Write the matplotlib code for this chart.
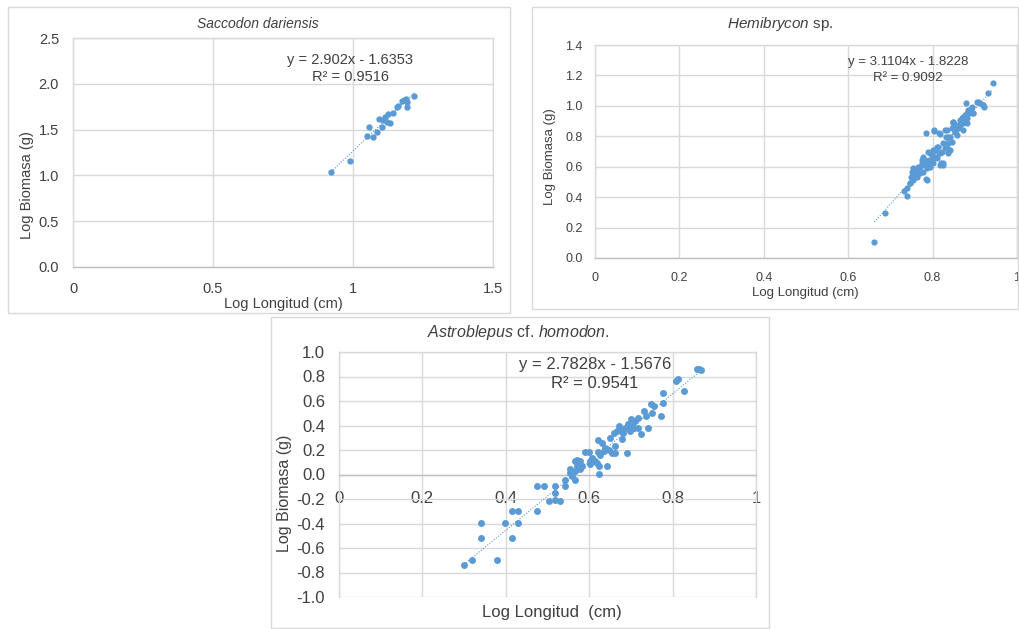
import matplotlib
matplotlib.use("Agg")
import matplotlib.pyplot as plt
from matplotlib.patches import Rectangle
import numpy as np

plt.rcParams['font.family'] = ['Liberation Sans', 'DejaVu Sans']
plt.rcParams['mathtext.fontset'] = 'custom'
plt.rcParams['mathtext.it'] = 'Liberation Sans:italic'
plt.rcParams['mathtext.rm'] = 'Liberation Sans'

# ---------------- data ----------------
saccodon_x = [0.921, 0.989, 1.049, 1.057, 1.070, 1.085, 1.093, 1.104, 1.108, 1.114,
              1.120, 1.124, 1.132, 1.144, 1.156, 1.162, 1.174, 1.182, 1.189, 1.192,
              1.194, 1.219]
saccodon_y = [1.04, 1.16, 1.433, 1.53, 1.42, 1.474, 1.616, 1.525, 1.605, 1.634,
              1.586, 1.670, 1.568, 1.678, 1.750, 1.761, 1.816, 1.823, 1.834, 1.744,
              1.805, 1.867]
saccodon_slope, saccodon_icpt, saccodon_r2 = 2.902, -1.6353, 0.9516

hemi_x = [0.662, 0.688, 0.739, 0.732, 0.740, 0.746, 0.748, 0.750, 0.753, 0.758,
          0.762, 0.766, 0.770, 0.774, 0.778, 0.782, 0.784, 0.784, 0.790, 0.792,
          0.794, 0.798, 0.802, 0.804, 0.806, 0.810, 0.813, 0.816, 0.818, 0.821,
          0.824, 0.825, 0.829, 0.832, 0.833, 0.837, 0.841, 0.845, 0.849, 0.853,
          0.857, 0.861, 0.865, 0.869, 0.873, 0.877, 0.879, 0.881, 0.885, 0.889,
          0.893, 0.896, 0.907, 0.912, 0.919, 0.922, 0.932, 0.942,
          0.804, 0.818, 0.833, 0.849, 0.865, 0.873, 0.881, 0.861, 0.853, 0.841,
          0.837, 0.829, 0.822, 0.814, 0.806, 0.798, 0.790, 0.786, 0.778, 0.770,
          0.762, 0.754, 0.746, 0.825, 0.818, 0.786, 0.810, 0.802, 0.794, 0.837,
          0.845, 0.857, 0.766, 0.758, 0.774, 0.782,
          0.920, 0.905, 0.896, 0.889, 0.877, 0.869, 0.861, 0.849, 0.881, 0.873]
hemi_y = [0.107, 0.294, 0.408, 0.443, 0.458, 0.491, 0.535, 0.567, 0.590, 0.546,
          0.579, 0.557, 0.600, 0.644, 0.666, 0.611, 0.517, 0.820, 0.699, 0.644,
          0.600, 0.677, 0.623, 0.842, 0.710, 0.655, 0.732, 0.820, 0.688, 0.623,
          0.754, 0.611, 0.842, 0.798, 0.721, 0.798, 0.710, 0.853, 0.896, 0.830,
          0.863, 0.853, 0.874, 0.918, 0.886, 0.940, 1.017, 0.918, 0.973, 0.951,
          0.995, 0.951, 1.028, 1.017, 1.006, 0.995, 1.087, 1.148,
          0.837, 0.815, 0.842, 0.890, 0.907, 0.929, 0.951, 0.853, 0.830, 0.798,
          0.754, 0.721, 0.699, 0.688, 0.666, 0.644, 0.623, 0.590, 0.567, 0.557,
          0.535, 0.513, 0.491, 0.623, 0.611, 0.513, 0.732, 0.710, 0.688, 0.688,
          0.765, 0.809, 0.600, 0.579, 0.623, 0.644,
          1.006, 1.028, 0.951, 0.973, 0.929, 0.907, 0.874, 0.896, 0.886, 0.842]
hemi_slope, hemi_icpt, hemi_r2 = 3.1104, -1.8228, 0.9092

astro_x = [0.299, 0.320, 0.341, 0.341, 0.379, 0.397, 0.414, 0.414, 0.429, 0.429,
           0.475, 0.491, 0.475, 0.503, 0.518, 0.518, 0.518, 0.531, 0.543, 0.543,
           0.555, 0.555, 0.559, 0.565, 0.567, 0.567, 0.570, 0.571, 0.575, 0.578,
           0.579, 0.583, 0.591, 0.599, 0.602, 0.603, 0.607, 0.615, 0.619, 0.622,
           0.622, 0.623, 0.623, 0.627, 0.631, 0.635, 0.639, 0.643, 0.647, 0.651,
           0.655, 0.659, 0.663, 0.663, 0.667, 0.671, 0.675, 0.679, 0.682, 0.685,
           0.690, 0.692, 0.695, 0.699, 0.701, 0.703, 0.708, 0.711, 0.716, 0.716,
           0.724, 0.732, 0.736, 0.740, 0.748, 0.750, 0.756, 0.772, 0.778, 0.778,
           0.808, 0.813, 0.828, 0.858, 0.864, 0.869]
astro_y = [-0.736, -0.695, -0.392, -0.518, -0.695, -0.392, -0.300, -0.518, -0.300, -0.392,
           -0.095, -0.095, -0.300, -0.218, -0.095, -0.150, -0.207, -0.218, -0.095, -0.041,
           0.041, 0.014, -0.014, 0.109, -0.041, 0.027, 0.068, 0.117, 0.095, 0.041,
           0.109, 0.068, 0.185, 0.185, 0.109, 0.087, 0.136, 0.109, 0.095, 0.278,
           0.185, 0.005, 0.068, 0.163, 0.259, 0.191, 0.218, 0.068, 0.204, 0.300,
           0.177, 0.341, 0.232, 0.177, 0.354, 0.395, 0.368, 0.286, 0.341, 0.381,
           0.177, 0.409, 0.368, 0.354, 0.450, 0.395, 0.381, 0.436, 0.381, 0.458,
           0.332, 0.518, 0.477, 0.381, 0.572, 0.504, 0.559, 0.477, 0.668, 0.586,
           0.763, 0.777, 0.681, 0.858, 0.858, 0.853]
astro_slope, astro_icpt, astro_r2 = 2.7828, -1.5676, 0.9541

# tick values / labels
p1_xt = [0, 0.5, 1.0, 1.5]
p1_xl = ['0', '0.5', '1', '1.5']
p1_yt = [0, 0.5, 1.0, 1.5, 2.0, 2.5]
p1_yl = ['0.0', '0.5', '1.0', '1.5', '2.0', '2.5']
p2_xt = [0, 0.2, 0.4, 0.6, 0.8, 1.0]
p2_xl = ['0', '0.2', '0.4', '0.6', '0.8', '1']
p2_yt = [0, 0.2, 0.4, 0.6, 0.8, 1.0, 1.2, 1.4]
p2_yl = ['0.0', '0.2', '0.4', '0.6', '0.8', '1.0', '1.2', '1.4']
p3_xt = [0, 0.2, 0.4, 0.6, 0.8, 1.0]
p3_xl = ['0', '0.2', '0.4', '0.6', '0.8', '1']
p3_yt = [-1.0, -0.8, -0.6, -0.4, -0.2, 0.0, 0.2, 0.4, 0.6, 0.8, 1.0]
p3_yl = ['-1.0', '-0.8', '-0.6', '-0.4', '-0.2', '0.0', '0.2', '0.4', '0.6', '0.8', '1.0']

# ---------------- styling ----------------
W, H = 1019, 629
DOT = '#5B9BD5'
GRID = '#D9D9D9'
TXT = '#404040'

fig = plt.figure(figsize=(W / 100, H / 100), dpi=100)
fig.patch.set_facecolor('white')


def fx(px):
    return px / W


def fy(py):
    return 1 - py / H


def box(x0, y0, x1, y1):
    fig.patches.append(Rectangle((fx(x0), fy(y1)), fx(x1) - fx(x0), fy(y0) - fy(y1),
                                 transform=fig.transFigure, fill=False,
                                 edgecolor=GRID, linewidth=1.0))


def make_axes(l, t, r, b):
    return fig.add_axes([fx(l), fy(b), fx(r) - fx(l), fy(t) - fy(b)])


def style(ax, xt, xl, yt, yl, fs, xpad, ypad):
    ax.set_xticks(xt)
    ax.set_xticklabels(xl)
    ax.set_yticks(yt)
    ax.set_yticklabels(yl)
    ax.set_xlim(xt[0], xt[-1])
    ax.set_ylim(yt[0], yt[-1])
    ax.grid(True, color=GRID, linewidth=1.0)
    ax.set_axisbelow(True)
    for s in ax.spines.values():
        s.set_color(GRID)
        s.set_linewidth(1.0)
    ax.spines['bottom'].set_color('#BFBFBF')
    ax.tick_params(length=0, labelsize=fs, labelcolor=TXT)
    ax.tick_params(axis='x', pad=xpad)
    ax.tick_params(axis='y', pad=ypad)


def draw(ax, xs, ys, slope, icpt, ms):
    xs = np.asarray(xs)
    ax.scatter(xs, ys, s=ms, color=DOT, zorder=3, linewidths=0, clip_on=False)
    xx = np.array([xs.min(), xs.max()])
    ax.plot(xx, slope * xx + icpt, linestyle=(0, (1, 1.5)), color=DOT,
            linewidth=0.8, zorder=2)


# Panel 1
box(8, 7, 510, 313)
ax1 = make_axes(73, 38, 493, 267)
style(ax1, p1_xt, p1_xl, p1_yt, p1_yl, 10.5, 11, 10)
draw(ax1, saccodon_x, saccodon_y, saccodon_slope, saccodon_icpt, 21)
fig.text(fx(258), fy(24), 'Saccodon dariensis', ha='center', va='center',
         fontsize=10, style='italic', color=TXT)
fig.text(fx(350), fy(60), f'y = {saccodon_slope}x - {abs(saccodon_icpt)}',
         ha='center', va='center', fontsize=10.5, color=TXT)
fig.text(fx(350), fy(77), f'R² = {saccodon_r2}', ha='center', va='center',
         fontsize=10.5, color=TXT)
fig.text(fx(283), fy(304), 'Log Longitud (cm)', ha='center', va='center',
         fontsize=10.5, color=TXT)
fig.text(fx(27), fy(185), 'Log Biomasa (g)', ha='center', va='center',
         rotation=90, fontsize=10.5, color=TXT)

# Panel 2
box(532, 7, 1018, 309)
ax2 = make_axes(595, 45, 1017, 258)
style(ax2, p2_xt, p2_xl, p2_yt, p2_yl, 9, 10, 9)
draw(ax2, hemi_x, hemi_y, hemi_slope, hemi_icpt, 20)
fig.text(fx(780), fy(24), r'$\it{Hemibrycon}$ sp.', ha='center', va='center',
         fontsize=11, color=TXT)
fig.text(fx(908), fy(62), f'y = {hemi_slope}x - {abs(hemi_icpt)}',
         ha='center', va='center', fontsize=9.5, color=TXT)
fig.text(fx(908), fy(78), f'R² = {hemi_r2}', ha='center', va='center',
         fontsize=9.5, color=TXT)
fig.text(fx(805), fy(293), 'Log Longitud (cm)', ha='center', va='center',
         fontsize=9.5, color=TXT)
fig.text(fx(550), fy(157), 'Log Biomasa (g)', ha='center', va='center',
         rotation=90, fontsize=9.5, color=TXT)

# Panel 3
box(271, 317, 769, 628)
ax3 = make_axes(339, 352, 756, 597)
style(ax3, p3_xt, p3_xl, p3_yt, p3_yl, 12, 12, 10)
ax3.spines['bottom'].set_position(('data', 0))
draw(ax3, astro_x, astro_y, astro_slope, astro_icpt, 25)
fig.text(fx(518), fy(332), r'$\it{Astroblepus}$ cf. $\it{homodon.}$', ha='center',
         va='center', fontsize=11.5, color=TXT)
fig.text(fx(595), fy(364), f'y = {astro_slope}x - {abs(astro_icpt)}',
         ha='center', va='center', fontsize=12, color=TXT)
fig.text(fx(595), fy(384), f'R² = {astro_r2}', ha='center', va='center',
         fontsize=12, color=TXT)
fig.text(fx(552), fy(613), 'Log Longitud  (cm)', ha='center', va='center',
         fontsize=12, color=TXT)
fig.text(fx(285), fy(493), 'Log Biomasa (g)', ha='center', va='center',
         rotation=90, fontsize=11.5, color=TXT)

fig.savefig('out.png', dpi=100, facecolor='white')
